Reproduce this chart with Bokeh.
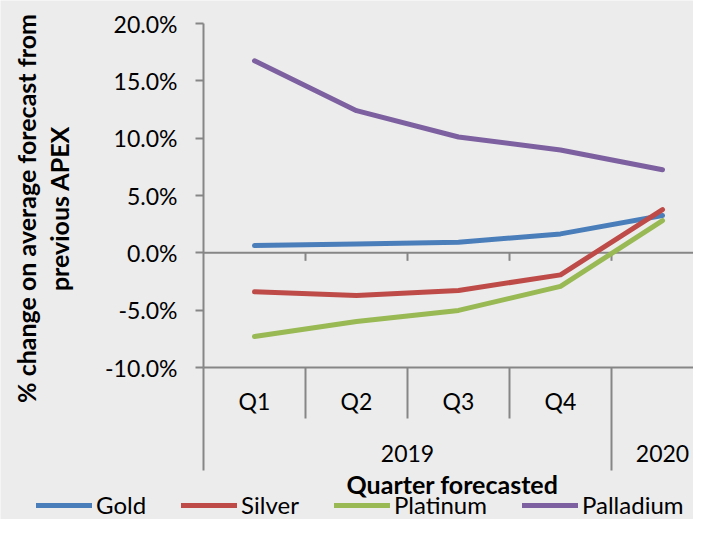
import numpy as np
from bokeh.plotting import figure
from bokeh.models import (Range1d, FixedTicker, PrintfTickFormatter, Label,
                          Legend, LegendItem)
from bokeh.core.properties import value
from bokeh.embed import file_html
from bokeh.resources import INLINE

# ---- data -------------------------------------------------------------
years = ["2019", "2019", "2019", "2019", "2020"]
quarters = ["Q1", "Q2", "Q3", "Q4", ""]
gold = [0.63, 0.78, 0.92, 1.65, 3.25]
silver = [-3.40, -3.72, -3.28, -1.92, 3.77]
platinum = [-7.30, -5.98, -5.02, -2.93, 2.81]
palladium = [16.75, 12.40, 10.10, 8.97, 7.25]
y_ticks = [-10, -5, 0, 5, 10, 15, 20]
series_names = ["Gold", "Silver", "Platinum", "Palladium"]
series_values = [gold, silver, platinum, palladium]
series_colors = ["#4a7ebb", "#be4b48", "#98b954", "#7d60a0"]
y_title_lines = ["% change on average forecast from", "previous APEX"]
x_title = "Quarter forecasted"

# ---- layout constants (canvas pixels) ---------------------------------
W, H = 693, 519
AXIS_X_PX = 203                               # where the category area starts
TICK_TOP_PX, TICK_BOT_PX = 23, 367            # 20% and -10% rows
CAT_PX = 102                                  # width of one category
AXIS_COL = "#868686"
BG = "#ececec"
FONT = "Lato"
FS = "23px"
FS_YTITLE = "25px"
FS_XTITLE = "25px"

Y_MAX, Y_LOW = max(y_ticks), min(y_ticks)
ppu = (TICK_BOT_PX - TICK_TOP_PX) / (Y_MAX - Y_LOW)


def y_at(px):
    """data value at a canvas pixel row"""
    return Y_MAX - (px - TICK_TOP_PX) / ppu


def x_at(px):
    """data value at a canvas pixel column"""
    return (px - AXIS_X_PX) / CAT_PX


p = figure(width=W, height=H, output_backend="svg", toolbar_location=None,
           title=None, x_axis_location=None,
           x_range=Range1d(x_at(0), x_at(W)), y_range=Range1d(y_at(H), y_at(0)),
           min_border=0)
p.background_fill_color = BG
p.border_fill_color = BG
p.outline_line_color = None
p.xgrid.visible = False
p.ygrid.visible = False

# y axis, pinned at the start of the category area
ya = p.yaxis[0]
ya.fixed_location = 0
ya.ticker = FixedTicker(ticks=y_ticks)
ya.formatter = PrintfTickFormatter(format="%.1f%%")
ya.bounds = (Y_LOW, Y_MAX)
ya.axis_line_color = AXIS_COL
ya.axis_line_width = 2
ya.major_tick_line_color = AXIS_COL
ya.major_tick_line_width = 2
ya.major_tick_out = 8
ya.major_tick_in = 0
ya.minor_tick_line_color = None
ya.major_label_standoff = 18
ya.major_label_text_font = FONT
ya.major_label_text_font_size = FS
ya.major_label_text_color = "#000000"

# y axis title (two rotated lines)
for txt, px in zip(y_title_lines, [25, 58]):
    p.add_layout(Label(x=x_at(px), y=y_at(208), text=txt, angle=np.pi / 2,
                       text_align="center", text_baseline="middle",
                       text_font=FONT, text_font_style="bold",
                       text_font_size=FS_YTITLE, text_color="#000000"))

n = len(quarters)
xs = [i + 0.5 for i in range(n)]
bounds = list(range(1, n + 1))

# horizontal lines: zero line and bottom of the plot area
p.segment(x0=[0, 0], y0=[0, Y_LOW], x1=[x_at(W)] * 2, y1=[0, Y_LOW],
          line_color=AXIS_COL, line_width=2)

# tick marks below the zero line at category boundaries
zt = y_at(TICK_TOP_PX + Y_MAX * ppu + 8)
p.segment(x0=bounds, y0=[0] * len(bounds), x1=bounds, y1=[zt] * len(bounds),
          line_color=AXIS_COL, line_width=2)

# dividers in the category label area
q_end = y_at(418)
y_end = y_at(470)
qb = [i for i in range(1, n) if years[i] == years[i - 1]]
yb = [0] + [i for i in range(1, n) if years[i] != years[i - 1]]
p.segment(x0=qb, y0=[Y_LOW] * len(qb), x1=qb, y1=[q_end] * len(qb),
          line_color=AXIS_COL, line_width=2)
p.segment(x0=yb, y0=[Y_LOW] * len(yb), x1=yb, y1=[y_end] * len(yb),
          line_color=AXIS_COL, line_width=2)

# category labels
p.text(x=xs, y=[y_at(400)] * n, text=quarters, text_align="center",
       text_baseline="middle", text_font=value(FONT),
       text_font_size=value(FS), text_color="#000000")
yr_names = list(dict.fromkeys(years))
yr_x = [float(np.mean([xs[i] for i in range(n) if years[i] == yname])) for yname in yr_names]
p.text(x=yr_x, y=[y_at(453)] * len(yr_names), text=yr_names, text_align="center",
       text_baseline="middle", text_font=value(FONT),
       text_font_size=value(FS), text_color="#000000")

# x axis title
p.text(x=[x_at(452)], y=[y_at(483)], text=[x_title],
       text_align="center", text_baseline="middle", text_font=value(FONT),
       text_font_style="bold", text_font_size=value(FS_XTITLE),
       text_color="#000000")

# series lines
items = []
for name, vals, col in zip(series_names, series_values, series_colors):
    r = p.line(xs, vals, line_color=col, line_width=5, line_cap="round",
               line_join="round")
    items.append(LegendItem(label=name, renderers=[r]))

legend = Legend(items=items, orientation="horizontal", location=(36, 0),
                glyph_width=56, glyph_height=16, label_height=16, label_standoff=4,
                spacing=35, padding=0, margin=0, border_line_alpha=0,
                background_fill_alpha=0, label_text_font=FONT,
                label_text_font_size="24px", label_text_color="#000000")
p.add_layout(legend)

open("out.html", "w").write(file_html(p, INLINE))
